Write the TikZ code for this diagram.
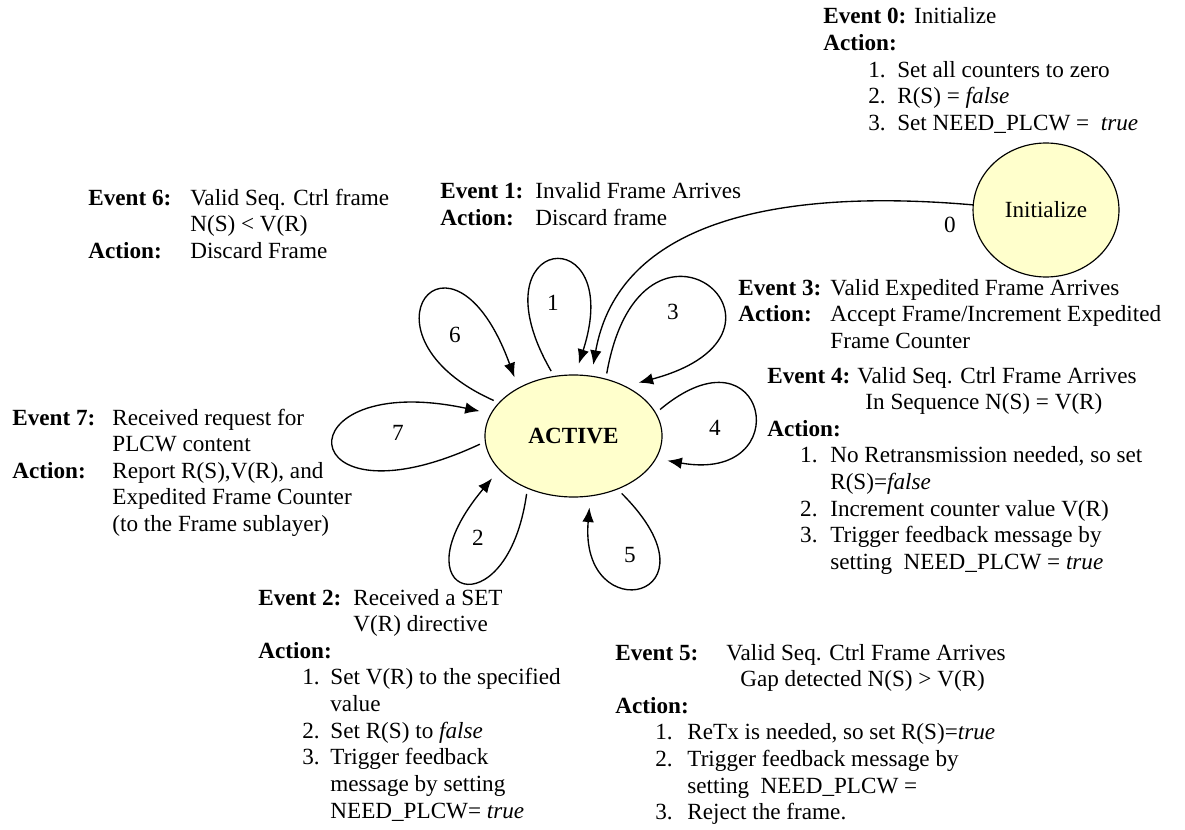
\documentclass[tikz,border=0pt]{standalone}
\usepackage{fontspec}
\setmainfont{Liberation Serif}
\usetikzlibrary{arrows.meta,shapes.geometric}
\definecolor{statefill}{RGB}{255,255,204}
\tikzset{
  stateoval/.style={ellipse,draw,fill=statefill,line width=0.6pt,inner sep=0pt,outer sep=3pt},
  selfarc/.style={->,line width=0.7pt,shorten >=3pt},
  evtext/.style={anchor=base west,inner sep=0pt},
}
% bold heading in a box of given width, and a numbered item
\newcommand{\evlbl}[2]{\makebox[#1][l]{\textbf{#2}}}
\newcommand{\evitm}[3]{\hspace*{#1}\makebox[#2][l]{#3}}

\begin{document}
\begin{tikzpicture}[x=0.518pt,y=0.518pt,>={Latex[length=7.5pt,width=6pt]},
    font=\fontsize{12pt}{13.8pt}\selectfont]
    \useasboundingbox (0,0) rectangle (1185,-829);

    % the two states
    \node[stateoval,minimum width=91.7pt,minimum height=63.2pt] (active) at (573.5,-436) {\textbf{ACTIVE}};
    \node[stateoval,minimum width=75.6pt,minimum height=69.4pt,outer sep=0pt] (init) at (1046,-210) {Initialize};

    % transition from Initialize
    \draw[selfarc] (init.176) .. controls +(175:200) and +(80:150) .. (active.74);
    \node (t0) at (950,-225) {0};

    % the self transitions of ACTIVE
    \draw[selfarc] (active.109) .. controls +(120:160) and +(72:160) .. (active.87);
    \draw[selfarc] (active.62) .. controls +(80:200) and +(15:200) .. (active.41);
    \draw[selfarc] (active.17) .. controls +(40:140) and +(-10:140) .. (active.-15);
    \draw[selfarc] (active.156) .. controls +(156:160) and +(110:190) .. (active.137);
    \draw[selfarc] (active.185) .. controls +(205:210) and +(168:210) .. (active.165);
    \draw[selfarc] (active.231) .. controls +(262:140) and +(230:160) .. (active.206);
    \draw[selfarc] (active.-50) .. controls +(-45:150) and +(-95:130) .. (active.-76);

    % numbers on the transitions
    \foreach \n/\x/\y in {1/553/303, 2/478/538, 3/673/312, 4/715/428,
                          5/630/555, 6/455/335, 7/398/433}
        \node (t\n) at (\x,-\y) {\n};

    % event descriptions
    \node[evtext] (ev0) at (823,-24) {\begin{tabular}[t]{@{}l@{}}
        \textbf{Event 0:} Initialize\\
        \textbf{Action:}\\
        \evitm{23.3pt}{15pt}{1.}Set all counters to zero\\
        \evitm{23.3pt}{15pt}{2.}R(S) = \textit{false}\\
        \evitm{23.3pt}{15pt}{3.}Set NEED\_PLCW = \ \textit{true}
        \end{tabular}};

    \node[evtext] (ev1) at (440,-199) {\begin{tabular}[t]{@{}l@{}}
        \evlbl{49.2pt}{Event 1:}Invalid Frame Arrives\\
        \evlbl{49.2pt}{Action:}Discard frame
        \end{tabular}};

    \node[evtext] (ev6) at (88,-205) {\begin{tabular}[t]{@{}l@{}}
        \evlbl{52.8pt}{Event 6:}Valid Seq. Ctrl frame\\
        \hspace*{52.8pt}N(S) < V(R)\\
        \evlbl{52.8pt}{Action:}Discard Frame
        \end{tabular}};

    \node[evtext] (ev3) at (738,-295) {\begin{tabular}[t]{@{}l@{}}
        \evlbl{47.7pt}{Event 3:}Valid Expedited Frame Arrives\\
        \evlbl{47.7pt}{Action:}Accept Frame/Increment Expedited\\
        \hspace*{47.7pt}Frame Counter
        \end{tabular}};

    \node[evtext] (ev4) at (767,-383) {\begin{tabular}[t]{@{}l@{}}
        \evlbl{46.6pt}{Event 4:}Valid Seq. Ctrl Frame Arrives\\
        \hspace*{50.8pt}In Sequence N(S) = V(R)\\
        \textbf{Action:}\\
        \evitm{17pt}{15.6pt}{1.}No Retransmission needed, so set\\
        \hspace*{32.6pt}R(S)=\textit{false}\\
        \evitm{17pt}{15.6pt}{2.}Increment counter value V(R)\\
        \evitm{17pt}{15.6pt}{3.}Trigger feedback message by\\
        \hspace*{32.6pt}setting \ NEED\_PLCW = \textit{true}
        \end{tabular}};

    \node[evtext] (ev7) at (12,-425) {\begin{tabular}[t]{@{}l@{}}
        \evlbl{51.8pt}{Event 7:}Received request for\\
        \hspace*{51.8pt}PLCW content\\
        \evlbl{51.8pt}{Action:}Report R(S),V(R), and\\
        \hspace*{51.8pt}Expedited Frame Counter\\
        \hspace*{51.8pt}(to the Frame sublayer)
        \end{tabular}};

    \node[evtext] (ev2) at (258,-605) {\begin{tabular}[t]{@{}l@{}}
        \evlbl{49.2pt}{Event 2:}Received a SET\\
        \hspace*{49.2pt}V(R) directive\\
        \textbf{Action:}\\
        \evitm{22.8pt}{14.5pt}{1.}Set V(R) to the specified\\
        \hspace*{37.3pt}value\\
        \evitm{22.8pt}{14.5pt}{2.}Set R(S) to \textit{false}\\
        \evitm{22.8pt}{14.5pt}{3.}Trigger feedback\\
        \hspace*{37.3pt}message by setting\\
        \hspace*{37.3pt}NEED\_PLCW= \textit{true}
        \end{tabular}};

    \node[evtext] (ev5) at (615,-660) {\begin{tabular}[t]{@{}l@{}}
        \evlbl{57.5pt}{Event 5:}Valid Seq. Ctrl Frame Arrives\\
        \hspace*{64.7pt}Gap detected N(S) > V(R)\\
        \textbf{Action:}\\
        \evitm{20.7pt}{16.6pt}{1.}ReTx is needed, so set R(S)=\textit{true}\\
        \evitm{20.7pt}{16.6pt}{2.}Trigger feedback message by\\
        \hspace*{37.3pt}setting \ NEED\_PLCW =\\
        \evitm{20.7pt}{16.6pt}{3.}Reject the frame.
        \end{tabular}};
\end{tikzpicture}
\end{document}
